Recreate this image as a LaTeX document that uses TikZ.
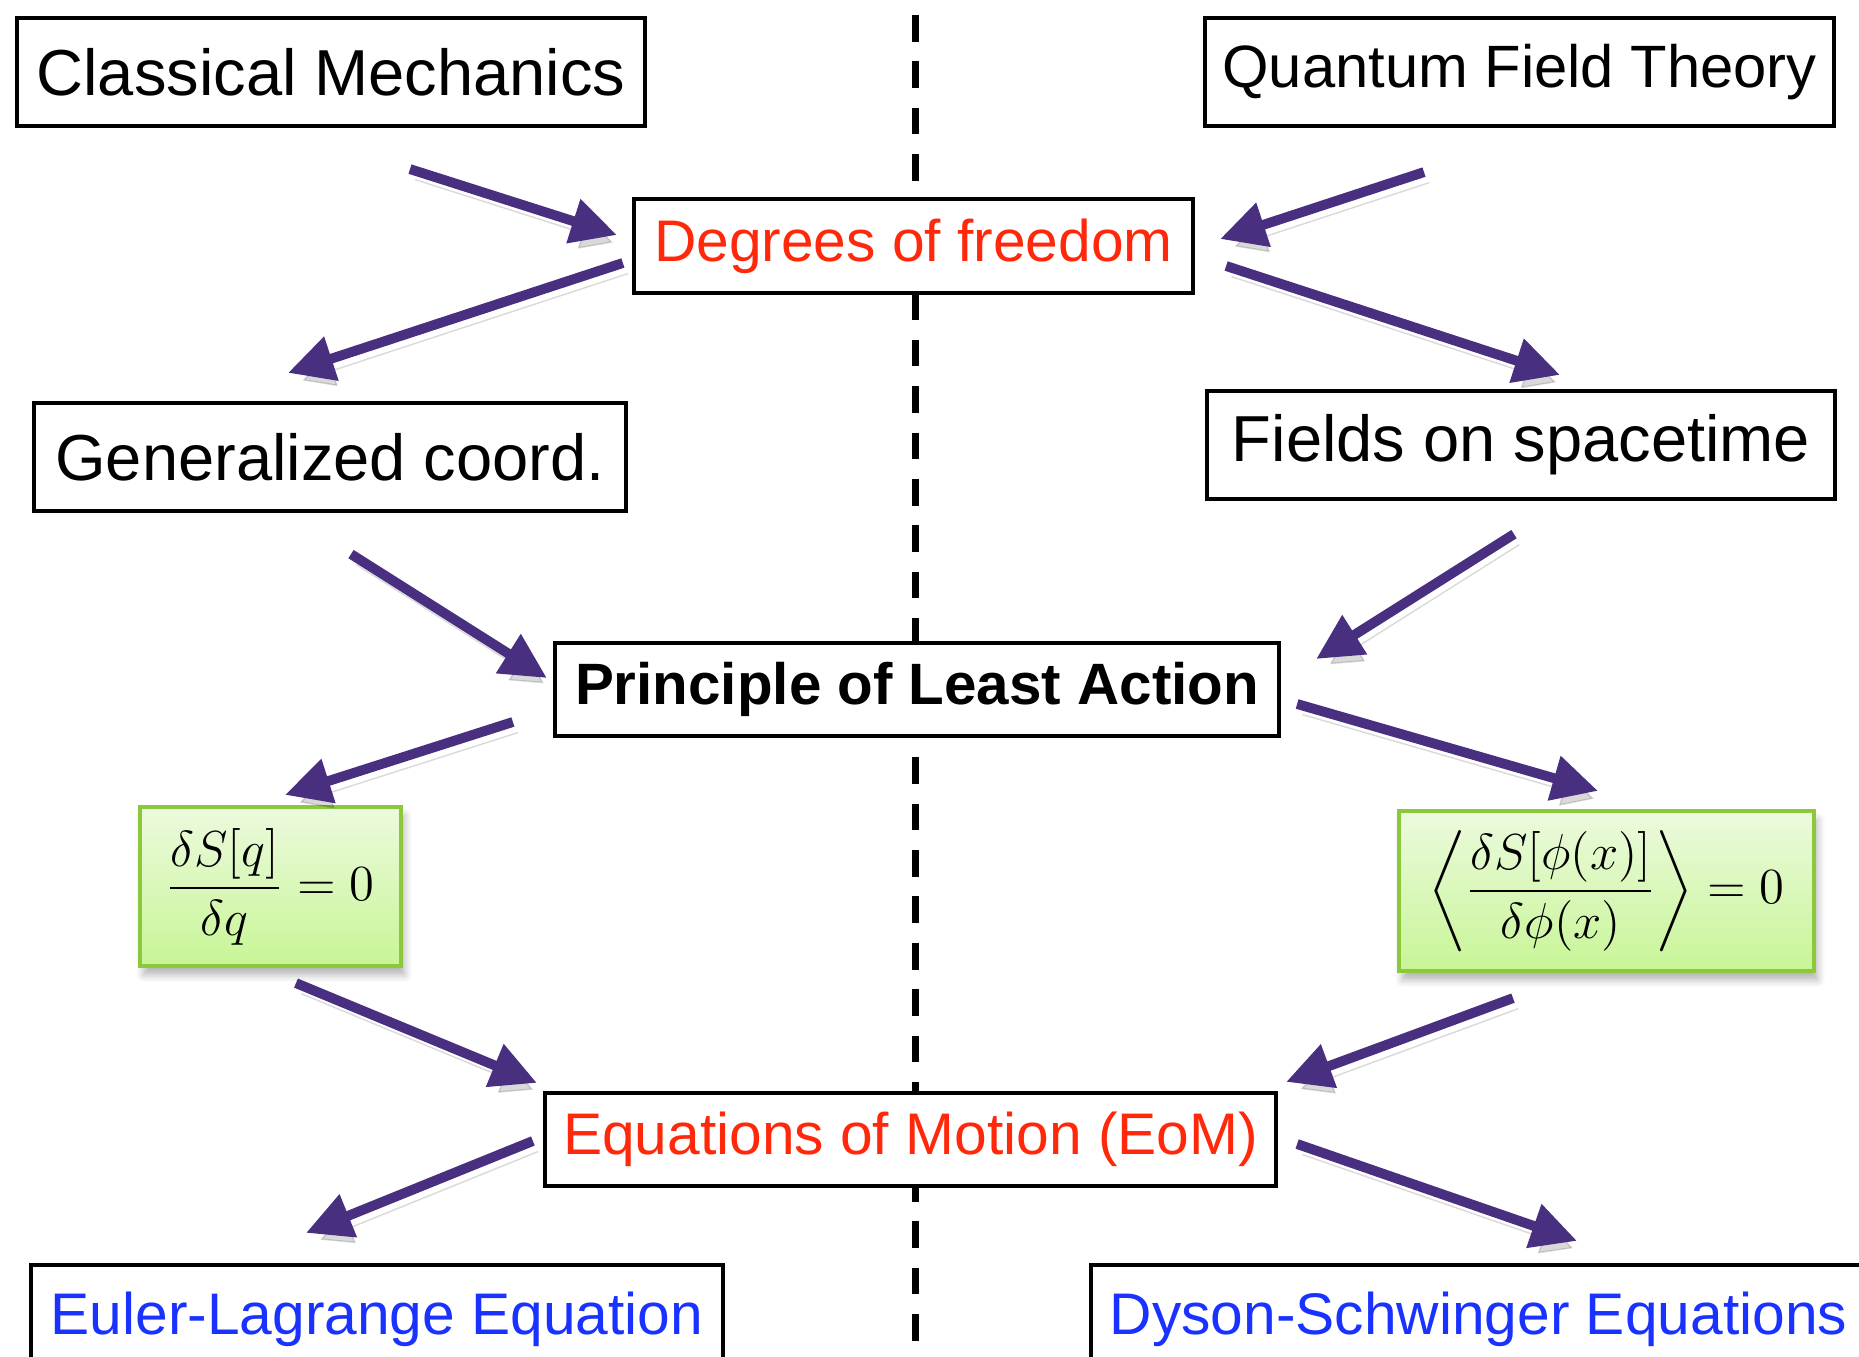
\documentclass[tikz,border=0pt]{standalone}
\usepackage[no-math]{fontspec}
\setmainfont{Liberation Sans}
\usepackage{amsmath}
\usetikzlibrary{arrows.meta,shadows.blur}
\definecolor{arrowpurple}{RGB}{72,47,128}
\definecolor{textred}{RGB}{255,40,10}
\definecolor{textblue}{RGB}{25,50,255}
\definecolor{eqborder}{RGB}{140,200,60}
\definecolor{eqtop}{RGB}{236,250,222}
\definecolor{eqbottom}{RGB}{200,245,150}
\tikzset{
  box/.style={draw,line width=1.2pt,fill=white,inner sep=0pt,font=\fontsize{16.7}{20}\selectfont},
  bigbox/.style={box,font=\fontsize{18.5}{22}\selectfont},
  eqbox/.style={draw=eqborder,line width=1.2pt,top color=eqtop,bottom color=eqbottom,inner sep=0pt,
    blur shadow={shadow xshift=1pt,shadow yshift=-2.5pt,shadow blur steps=6,shadow opacity=30},
    font=\fontsize{14.5}{17}\selectfont},
  flow/.style={arrowpurple,line width=2.8pt,-{Triangle[length=13pt,width=12.5pt]},
    preaction={draw=black,opacity=0.15,transform canvas={xshift=1.5pt,yshift=-3pt}}},
  divider/.style={line width=1.9pt,dash pattern=on 7.6pt off 5.6pt}
}
\begin{document}
\begin{tikzpicture}
  \useasboundingbox (0,0) rectangle (18.59,-13.57);
  \clip (0,0) rectangle (18.59,-13.57);
  % dashed divider, behind the middle column
  \coordinate (divtop) at (9.155,-0.15);
  \coordinate (divbot) at (9.155,-13.6);
  \draw[divider] (divtop) -- (divbot);
  % top row
  \node[bigbox,minimum width=6.28cm,minimum height=1.08cm] (cm) at (3.31,-0.72) {Classical Mechanics};
  \node[box,font=\fontsize{17}{20}\selectfont,minimum width=6.29cm,minimum height=1.08cm] (qft) at (15.195,-0.72) {Quantum Field Theory};
  \node[box,text=textred,minimum width=5.59cm,minimum height=0.94cm] (dof) at (9.135,-2.46) {Degrees of freedom};
  % second row
  \node[bigbox,minimum width=5.92cm,minimum height=1.08cm] (gc) at (3.30,-4.57) {Generalized coord.};
  \node[bigbox,minimum width=6.28cm,minimum height=1.08cm] (fst) at (15.21,-4.45) {Fields on spacetime};
  \node[box,font=\bfseries\fontsize{16.6}{20}\selectfont,minimum width=7.24cm,minimum height=0.93cm] (pla) at (9.17,-6.895) {Principle of Least Action};
  % variational equations
  \node[eqbox,minimum width=2.61cm,minimum height=1.59cm] (eql) at (2.705,-8.865) {$\displaystyle\frac{\delta S[q]}{\delta q}=0$};
  \node[eqbox,minimum width=4.15cm,minimum height=1.60cm] (eqr) at (16.065,-8.91) {$\displaystyle\left\langle\frac{\delta S[\phi(x)]}{\delta\phi(x)}\right\rangle=0$};
  \node[box,text=textred,minimum width=7.31cm,minimum height=0.93cm] (eom) at (9.105,-11.395) {Equations of Motion (EoM)};
  % bottom row
  \node[box,text=textblue,minimum width=6.92cm,minimum height=1.08cm] (el) at (3.77,-13.19) {Euler-Lagrange Equation};
  \node[box,text=textblue,minimum width=7.75cm,minimum height=1.08cm] (ds) at (14.785,-13.19) {Dyson-Schwinger Equations};
  % arrows
  \draw[flow] ([shift={(0.79,-0.41)}]cm.south) -- ([shift={(-0.15,0.11)}]dof.west);
  \draw[flow] ([shift={(-0.09,-0.17)}]dof.west) -- ([shift={(-0.42,0.28)}]gc.north);
  \draw[flow] ([shift={(-0.955,-0.44)}]qft.south) -- ([shift={(0.25,0.07)}]dof.east);
  \draw[flow] ([shift={(0.31,-0.20)}]dof.east) -- ([shift={(0.39,0.14)}]fst.north);
  \draw[flow] ([shift={(0.21,-0.41)}]gc.south) -- ([shift={(-0.06,0.115)}]pla.west);
  \draw[flow] ([shift={(-0.07,-0.33)}]fst.south) -- ([shift={(0.35,0.305)}]pla.east);
  \draw[flow] ([shift={(-0.40,-0.325)}]pla.west) -- ([shift={(0.145,0.10)}]eql.north);
  \draw[flow] ([shift={(0.16,-0.145)}]pla.east) -- ([shift={(-0.085,0.18)}]eqr.north);
  \draw[flow] ([shift={(0.255,-0.15)}]eql.south) -- ([shift={(-0.06,0.08)}]eom.north west);
  \draw[flow] ([shift={(-0.935,-0.25)}]eqr.south) -- ([shift={(0.08,0.09)}]eom.north east);
  \draw[flow] ([shift={(-0.10,-0.015)}]eom.west) -- ([shift={(-0.71,0.30)}]el.north);
  \draw[flow] ([shift={(0.19,-0.045)}]eom.east) -- ([shift={(0.985,0.22)}]ds.north);
\end{tikzpicture}
\end{document}
